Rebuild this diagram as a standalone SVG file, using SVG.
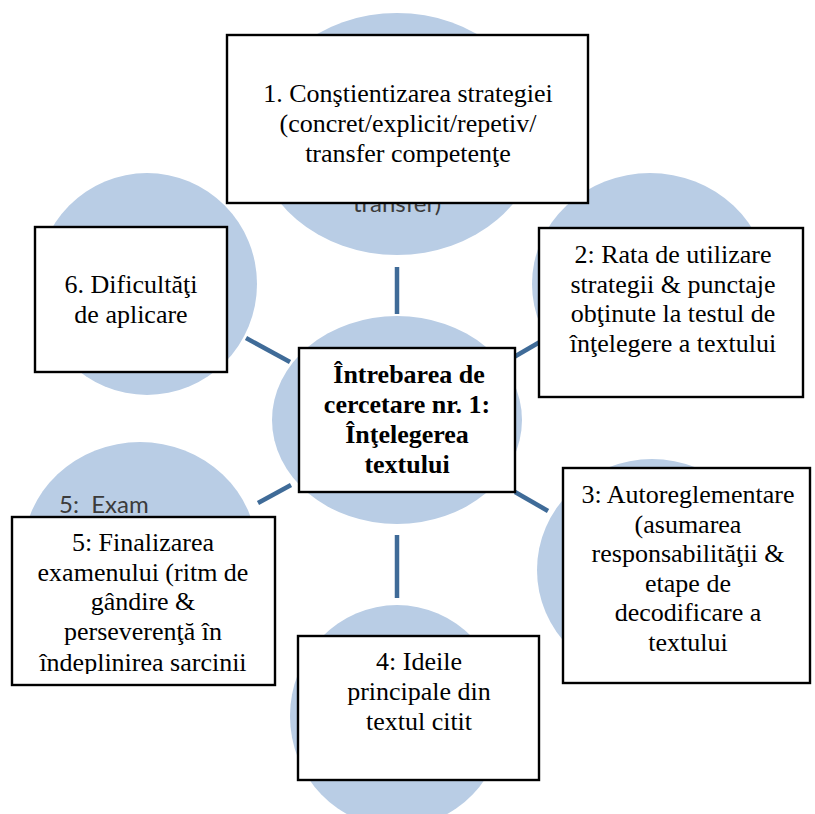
<svg xmlns="http://www.w3.org/2000/svg" width="815" height="814" viewBox="0 0 815 814">
  <style>
    .disc { fill: #B9CDE5; }
    .link { stroke: #3F6B98; stroke-width: 4.5; stroke-linecap: butt; fill: none; }
    .box { fill: #FFFFFF; stroke: #000000; stroke-width: 2.4; }
    .lbl { font-family: "Liberation Serif", "Times New Roman", serif; font-size: 26px; fill: #000000; text-anchor: middle; }
    .bold { font-weight: bold; }
    .inner { font-family: Lato, "Open Sans", "Liberation Sans", sans-serif; font-size: 24px; fill: #3B3B3B; white-space: pre; }
  </style>
  <defs>
    <clipPath id="clip-n5">
      <rect x="12" y="517" width="263" height="157"/>
    </clipPath>
  </defs>

  <!-- background discs of the radial layout -->
  <g id="discs">
    <ellipse class="disc" cx="397" cy="134" rx="142" ry="121"/>
    <ellipse class="disc" cx="650" cy="284" rx="118" ry="111"/>
    <ellipse class="disc" cx="652" cy="570" rx="115" ry="111"/>
    <ellipse class="disc" cx="397" cy="716" rx="107" ry="111"/>
    <ellipse class="disc" cx="140" cy="553" rx="117" ry="111"/>
    <ellipse class="disc" cx="147" cy="284" rx="110" ry="111"/>
    <ellipse class="disc" cx="397" cy="420" rx="125" ry="104"/>
    <text class="inner" x="397" y="212" text-anchor="middle">transfer)</text>
    <text class="inner" x="59" y="513">5:  Exam</text>
  </g>

  <!-- spokes from the hub to each satellite -->
  <g id="connectors">
    <line class="link" x1="397" y1="267" x2="397" y2="314"/>
    <line class="link" x1="514" y1="357" x2="545" y2="339"/>
    <line class="link" x1="515" y1="492" x2="548" y2="511"/>
    <line class="link" x1="397" y1="535" x2="397" y2="598"/>
    <line class="link" x1="258" y1="503" x2="291" y2="485"/>
    <line class="link" x1="246" y1="338" x2="290" y2="362"/>
  </g>

  <g id="node-1">
    <rect class="box" x="227" y="35" width="361" height="168"/>
    <text class="lbl" x="408" y="102">1. Conştientizarea strategiei</text>
    <text class="lbl" x="408" y="132">(concret/explicit/repetiv/</text>
    <text class="lbl" x="408" y="162">transfer competenţe</text>
  </g>

  <g id="node-2">
    <rect class="box" x="539" y="228" width="264" height="169"/>
    <text class="lbl" x="673" y="263">2: Rata de utilizare</text>
    <text class="lbl" x="673" y="293">strategii &amp; punctaje</text>
    <text class="lbl" x="673" y="322">obţinute la testul de</text>
    <text class="lbl" x="673" y="352">înţelegere a textului</text>
  </g>

  <g id="node-3">
    <rect class="box" x="563" y="468" width="247" height="215"/>
    <text class="lbl" x="688" y="503">3: Autoreglementare</text>
    <text class="lbl" x="688" y="533">(asumarea</text>
    <text class="lbl" x="688" y="562">responsabilităţii &amp;</text>
    <text class="lbl" x="688" y="592">etape de</text>
    <text class="lbl" x="688" y="621">decodificare a</text>
    <text class="lbl" x="688" y="651">textului</text>
  </g>

  <g id="node-4">
    <rect class="box" x="298" y="636" width="241" height="144"/>
    <text class="lbl" x="419" y="670">4: Ideile</text>
    <text class="lbl" x="419" y="700">principale din</text>
    <text class="lbl" x="419" y="730">textul citit</text>
  </g>

  <g id="node-5">
    <rect class="box" x="12" y="517" width="263" height="168"/>
    <g clip-path="url(#clip-n5)">
      <text class="lbl" x="143" y="551">5: Finalizarea</text>
      <text class="lbl" x="143" y="581">examenului (ritm de</text>
      <text class="lbl" x="143" y="610">gândire &amp;</text>
      <text class="lbl" x="143" y="640">perseverenţă în</text>
      <text class="lbl" x="143" y="671">îndeplinirea sarcinii</text>
    </g>
  </g>

  <g id="node-6">
    <rect class="box" x="35" y="227" width="192" height="145"/>
    <text class="lbl" x="131" y="293">6. Dificultăţi</text>
    <text class="lbl" x="131" y="323">de aplicare</text>
  </g>

  <g id="node-hub">
    <rect class="box" x="299" y="348" width="216" height="144"/>
    <text class="lbl bold" x="409" y="383">Întrebarea de</text>
    <text class="lbl bold" x="407" y="413">cercetare nr. 1:</text>
    <text class="lbl bold" x="407" y="443">Înţelegerea</text>
    <text class="lbl bold" x="407" y="473">textului</text>
  </g>
</svg>
